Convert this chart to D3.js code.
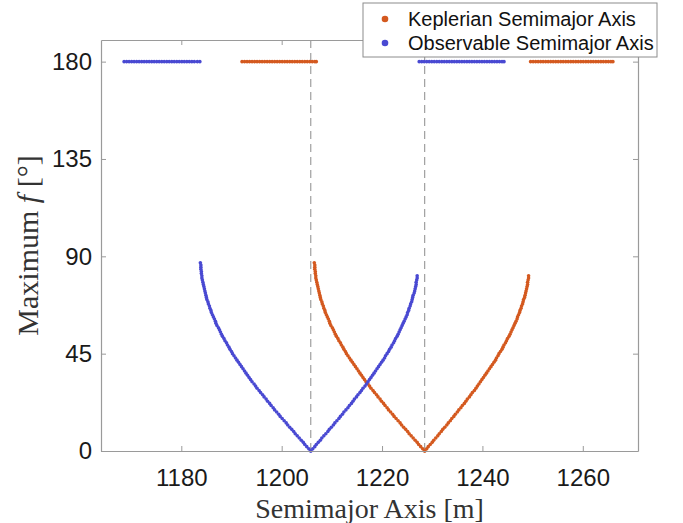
<!DOCTYPE html>
<html>
<head>
<meta charset="utf-8">
<script src="https://cdn.jsdelivr.net/npm/d3@7"></script>
<style>
  html, body { margin: 0; padding: 0; background: #fff; }
  svg { display: block; }
</style>
</head>
<body>
<svg id="chart" width="683" height="523"></svg>
<script>
// ---------------- data ----------------
const seriesNames = ["Keplerian Semimajor Axis", "Observable Semimajor Axis"];
const seriesColors = ["#d4591f", "#4949d2"];

const xTicks = [1180, 1200, 1220, 1240, 1260];
const yTicks = [0, 45, 90, 135, 180];
const xDomain = [1164, 1271];
const yDomain = [0, 190];

// vertices (dashed reference lines)
const dashedX = [1205.8, 1228.5];

// maximum f values (deg) along the branches
const fLeft = [0,1,2,3,4,5,6,7,8,9,10,11,12,13,14,15,16,17,18,19,20,21,22,23,24,25,26,27,28,29,30,31,32,33,34,35,36,37,38,39,40,41,42,43,44,45,46,47,48,49,50,51,52,53,54,55,56,57,58,59,60,61,62,63,64,65,66,67,68,69,70,71,72,73,74,75,76,77,78,79,80,81,82,83,84,85,86,87];
const fRight = [0,1,2,3,4,5,6,7,8,9,10,11,12,13,14,15,16,17,18,19,20,21,22,23,24,25,26,27,28,29,30,31,32,33,34,35,36,37,38,39,40,41,42,43,44,45,46,47,48,49,50,51,52,53,54,55,56,57,58,59,60,61,62,63,64,65,66,67,68,69,70,71,72,73,74,75,76,77,78,79,80,81];

// Observable (blue) left branch semimajor axis
const obsLeftA = [1205.8,1205.4,1205.0,1204.6,1204.3,1203.9,1203.5,1203.1,1202.7,1202.4,1202.0,1201.6,1201.2,1200.9,1200.5,1200.1,1199.7,1199.4,1199.0,1198.6,1198.3,1197.9,1197.6,1197.2,1196.9,1196.5,1196.2,1195.8,1195.5,1195.1,1194.8,1194.5,1194.1,1193.8,1193.5,1193.2,1192.9,1192.6,1192.3,1192.0,1191.7,1191.4,1191.1,1190.8,1190.5,1190.2,1190.0,1189.7,1189.5,1189.2,1189.0,1188.7,1188.5,1188.2,1188.0,1187.8,1187.6,1187.4,1187.1,1186.9,1186.8,1186.6,1186.4,1186.2,1186.0,1185.9,1185.7,1185.6,1185.4,1185.3,1185.1,1185.0,1184.9,1184.8,1184.7,1184.6,1184.5,1184.4,1184.3,1184.2,1184.1,1184.1,1184.0,1184.0,1183.9,1183.9,1183.9,1183.8];
// Observable (blue) right branch
const obsRightA = [1205.8,1206.2,1206.6,1206.9,1207.3,1207.7,1208.0,1208.4,1208.8,1209.2,1209.5,1209.9,1210.3,1210.6,1211.0,1211.4,1211.7,1212.1,1212.4,1212.8,1213.2,1213.5,1213.9,1214.2,1214.5,1214.9,1215.2,1215.6,1215.9,1216.2,1216.6,1216.9,1217.2,1217.5,1217.8,1218.1,1218.4,1218.7,1219.0,1219.3,1219.6,1219.9,1220.2,1220.5,1220.7,1221.0,1221.3,1221.5,1221.8,1222.0,1222.3,1222.5,1222.7,1223.0,1223.2,1223.4,1223.6,1223.8,1224.0,1224.2,1224.4,1224.6,1224.8,1225.0,1225.1,1225.3,1225.4,1225.6,1225.7,1225.9,1226.0,1226.1,1226.2,1226.4,1226.5,1226.6,1226.7,1226.8,1226.8,1226.9,1227.0,1227.0];
// Keplerian (orange) left branch
const kepLeftA = [1228.5,1228.1,1227.7,1227.3,1227.0,1226.6,1226.2,1225.8,1225.4,1225.1,1224.7,1224.3,1223.9,1223.6,1223.2,1222.8,1222.4,1222.1,1221.7,1221.3,1221.0,1220.6,1220.3,1219.9,1219.6,1219.2,1218.9,1218.5,1218.2,1217.8,1217.5,1217.2,1216.8,1216.5,1216.2,1215.9,1215.6,1215.3,1215.0,1214.7,1214.4,1214.1,1213.8,1213.5,1213.2,1212.9,1212.7,1212.4,1212.2,1211.9,1211.7,1211.4,1211.2,1210.9,1210.7,1210.5,1210.3,1210.1,1209.8,1209.6,1209.5,1209.3,1209.1,1208.9,1208.7,1208.6,1208.4,1208.3,1208.1,1208.0,1207.8,1207.7,1207.6,1207.5,1207.4,1207.3,1207.2,1207.1,1207.0,1206.9,1206.8,1206.8,1206.7,1206.7,1206.6,1206.6,1206.6,1206.5];
// Keplerian (orange) right branch
const kepRightA = [1228.5,1228.9,1229.2,1229.6,1230.0,1230.3,1230.7,1231.1,1231.4,1231.8,1232.1,1232.5,1232.9,1233.2,1233.6,1233.9,1234.3,1234.6,1235.0,1235.3,1235.7,1236.0,1236.4,1236.7,1237.0,1237.4,1237.7,1238.0,1238.4,1238.7,1239.0,1239.3,1239.6,1239.9,1240.2,1240.5,1240.8,1241.1,1241.4,1241.7,1242.0,1242.3,1242.6,1242.8,1243.1,1243.3,1243.6,1243.9,1244.1,1244.3,1244.6,1244.8,1245.0,1245.3,1245.5,1245.7,1245.9,1246.1,1246.3,1246.5,1246.7,1246.9,1247.0,1247.2,1247.4,1247.5,1247.7,1247.8,1248.0,1248.1,1248.2,1248.4,1248.5,1248.6,1248.7,1248.8,1248.9,1249.0,1249.0,1249.1,1249.2,1249.2];

// points sitting at f = 180 deg
const fTop = 180;
const obsTopA = [1168.6,1169.1,1169.6,1170.1,1170.6,1171.1,1171.6,1172.1,1172.6,1173.1,1173.6,1174.1,1174.6,1175.1,1175.6,1176.1,1176.6,1177.1,1177.6,1178.1,1178.6,1179.1,1179.6,1180.1,1180.6,1181.1,1181.6,1182.1,1182.6,1183.2,1183.7,
                 1227.4,1227.9,1228.4,1228.9,1229.4,1229.9,1230.4,1230.9,1231.4,1231.9,1232.4,1232.9,1233.4,1233.9,1234.4,1234.9,1235.4,1235.9,1236.4,1236.9,1237.4,1237.9,1238.4,1238.9,1239.4,1239.9,1240.4,1240.9,1241.4,1241.9,1242.4,1242.9,1243.4,1243.9,1244.3];
const kepTopA = [1192.1,1192.6,1193.1,1193.6,1194.1,1194.6,1195.1,1195.6,1196.1,1196.6,1197.1,1197.6,1198.1,1198.6,1199.1,1199.6,1200.1,1200.6,1201.1,1201.6,1202.1,1202.6,1203.1,1203.6,1204.1,1204.6,1205.1,1205.6,1206.1,1206.6,1206.9,
                 1249.6,1250.1,1250.6,1251.1,1251.6,1252.1,1252.6,1253.1,1253.6,1254.1,1254.6,1255.1,1255.6,1256.1,1256.6,1257.1,1257.6,1258.1,1258.6,1259.1,1259.6,1260.1,1260.6,1261.1,1261.6,1262.1,1262.6,1263.1,1263.6,1264.1,1264.6,1265.1,1265.6,1266.0];

// ---------------- chart ----------------
const svg = d3.select("#chart");
const M = { left: 101, right: 638, top: 40, bottom: 451 };
const x = d3.scaleLinear().domain(xDomain).range([M.left, M.right]);
const y = d3.scaleLinear().domain(yDomain).range([M.bottom, M.top]);
const axisColor = "#9a9a9a";
const tickFont = "'Liberation Sans', Arial, Helvetica, sans-serif";
const serif = "'Liberation Serif', 'DejaVu Serif', 'Times New Roman', serif";

function pts(aArr, fArr) { return aArr.map((a, i) => ({ a: a, f: fArr[i] })); }
const kepPts = pts(kepLeftA, fLeft).concat(pts(kepRightA, fRight), kepTopA.map(a => ({ a: a, f: fTop })));
const obsPts = pts(obsLeftA, fLeft).concat(pts(obsRightA, fRight), obsTopA.map(a => ({ a: a, f: fTop })));

// dashed lines
svg.append("g").selectAll("line").data(dashedX).join("line")
  .attr("x1", d => x(d)).attr("x2", d => x(d))
  .attr("y1", y(yDomain[0])).attr("y2", y(yDomain[1]))
  .attr("stroke", "#8c8c8c").attr("stroke-width", 1).attr("stroke-dasharray", "8,5");

// points
const r = 1.8;
svg.append("g").selectAll("circle").data(kepPts).join("circle")
  .attr("cx", d => x(d.a)).attr("cy", d => y(d.f)).attr("r", r).attr("fill", seriesColors[0]);
svg.append("g").selectAll("circle").data(obsPts).join("circle")
  .attr("cx", d => x(d.a)).attr("cy", d => y(d.f)).attr("r", r).attr("fill", seriesColors[1]);

// axes (box with inward ticks on all four sides)
const tl = 5;
function styleAxis(g) {
  g.selectAll(".domain").attr("stroke", axisColor).attr("stroke-width", 1.2);
  g.selectAll(".tick line").attr("stroke", axisColor).attr("stroke-width", 1);
}
const gx = svg.append("g").attr("transform", `translate(0,${M.bottom})`)
  .call(d3.axisBottom(x).tickValues(xTicks).tickSize(-tl).tickSizeOuter(0).tickPadding(18).tickFormat(d3.format("d")));
styleAxis(gx);
gx.selectAll("text").attr("font-family", tickFont).attr("font-size", 24).attr("fill", "#1a1a1a");

const gxt = svg.append("g").attr("transform", `translate(0,${M.top})`)
  .call(d3.axisTop(x).tickValues(xTicks).tickSize(-tl).tickSizeOuter(0).tickFormat(""));
styleAxis(gxt);

const gy = svg.append("g").attr("transform", `translate(${M.left},0)`)
  .call(d3.axisLeft(y).tickValues(yTicks).tickSize(-tl).tickSizeOuter(0).tickPadding(9));
styleAxis(gy);
gy.selectAll("text").attr("font-family", tickFont).attr("font-size", 24).attr("fill", "#1a1a1a");

const gyr = svg.append("g").attr("transform", `translate(${M.right},0)`)
  .call(d3.axisRight(y).tickValues(yTicks).tickSize(-tl).tickSizeOuter(0).tickFormat(""));
styleAxis(gyr);

// axis labels
svg.append("text")
  .attr("x", (M.left + M.right) / 2).attr("y", 518)
  .attr("text-anchor", "middle").attr("font-family", serif).attr("font-size", 28).attr("fill", "#333")
  .text("Semimajor Axis [m]");

const yl = svg.append("text")
  .attr("transform", `translate(38,${(M.top + M.bottom) / 2}) rotate(-90)`)
  .attr("text-anchor", "middle").attr("font-family", serif).attr("font-size", 30).attr("fill", "#333");
yl.append("tspan").text("Maximum ");
yl.append("tspan").attr("font-style", "italic").text("f");
yl.append("tspan").text(" [°]");

// legend
const lg = svg.append("g");
lg.append("rect").attr("x", 363).attr("y", 3).attr("width", 294).attr("height", 54)
  .attr("fill", "#fff").attr("stroke", "#8c8c8c").attr("stroke-width", 1);
const rows = lg.selectAll("g.row").data(seriesNames).join("g").attr("class", "row")
  .attr("transform", (d, i) => `translate(0,${19 + i * 24})`);
rows.append("circle").attr("cx", 385).attr("cy", 0).attr("r", 3.3).attr("fill", (d, i) => seriesColors[i]);
rows.append("text").attr("x", 408).attr("y", 7)
  .attr("font-family", tickFont).attr("font-size", 20).attr("fill", "#111").text(d => d);
</script>
</body>
</html>
